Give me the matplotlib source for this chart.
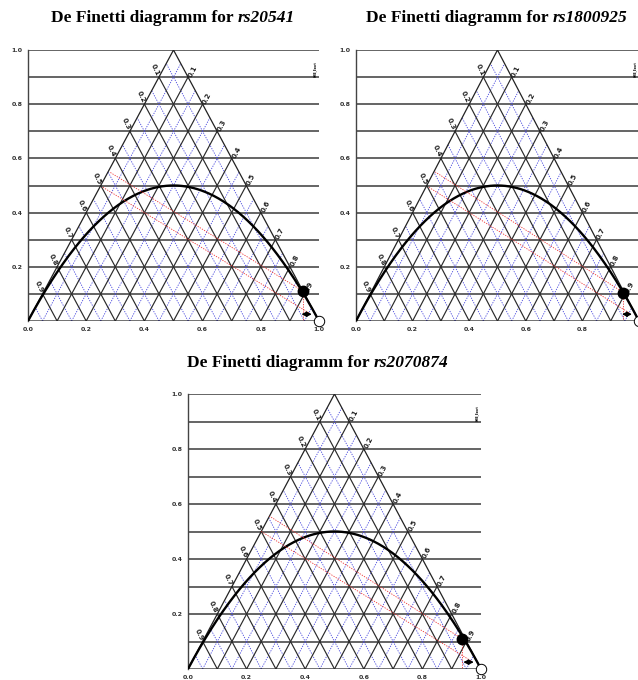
import numpy as np
import matplotlib
matplotlib.use("Agg")
import matplotlib.pyplot as plt

# one panel per SNP
snp_ids = ["rs20541", "rs1800925", "rs2070874"]

# observed genotype point (black dot) in diagram coordinates
obs_x = [0.945, 0.945, 0.935]
obs_y = [0.11, 0.105, 0.11]

# second (expected) point, drawn as the small arrow near the corner
exp_x = [0.965, 0.965, 0.965]
exp_y = [0.03, 0.03, 0.03]

# where the red dotted guides meet the left edge
obs_foot_x = [0.28, 0.28, 0.278]
obs_foot_y = [0.55, 0.55, 0.556]
exp_foot_x = [0.255, 0.255, 0.25]
exp_foot_y = [0.495, 0.495, 0.50]

edge_labels = ["0.1", "0.2", "0.3", "0.4", "0.5", "0.6", "0.7", "0.8", "0.9"]
xtick_vals = [0.0, 0.2, 0.4, 0.6, 0.8, 1.0]
ytick_vals = [0.2, 0.4, 0.6, 0.8, 1.0]

# panel boxes in pixels: left, top, right, bottom  /  title centre
panel_px = [(28, 50, 319, 321), (356, 50, 639, 321), (188, 394, 481, 669)]
title_px = [(173, 18), (497, 18), (318, 363)]

W, H = 638, 680
fig = plt.figure(figsize=(W / 100, H / 100), dpi=100)


def draw_panel(ax, i):
    ax.set_xlim(0, 1)
    ax.set_ylim(0, 1)
    for s in ["top", "right", "bottom"]:
        ax.spines[s].set_visible(False)
    ax.spines["left"].set_color("#444444")
    ax.spines["left"].set_linewidth(1.0)

    # horizontal grid across the whole box
    for lev in np.arange(1, 11) / 10:
        ax.plot([0, 1], [lev, lev], color="#4a4a4a", lw=1.2, zorder=1)

    # blue dotted half-step lattice
    for a in np.arange(0.05, 1.0, 0.1):
        ax.plot([a, (1 + a) / 2], [0, 1 - a], color="#4444dd", lw=0.6,
                ls=(0, (1.5, 1.5)), zorder=2)
        ax.plot([a, a / 2], [0, a], color="#4444dd", lw=0.6,
                ls=(0, (1.5, 1.5)), zorder=2)

    # black lattice parallel to the two sides
    for a in np.arange(1, 10) / 10:
        ax.plot([a, (1 + a) / 2], [0, 1 - a], color="#2a2a2a", lw=0.85, zorder=3)
        ax.plot([a, a / 2], [0, a], color="#2a2a2a", lw=0.85, zorder=3)

    # triangle outline
    ax.plot([0, 0.5, 1, 0], [0, 1, 0, 0], color="#222222", lw=0.9, zorder=3)

    # edge labels
    for k, lab in enumerate(edge_labels):
        lev = 0.9 - 0.1 * k
        xl = lev / 2
        ax.text(xl - 0.013, lev + 0.026, lab, fontsize=5, fontweight="bold",
                rotation=-65, ha="center", va="center", color="#222222", zorder=6)
        xr = 1 - lev / 2
        ax.text(xr + 0.016, lev + 0.022, lab, fontsize=5, fontweight="bold",
                rotation=62, ha="center", va="center", color="#222222", zorder=6)

    # HWE parabola
    p = np.linspace(0, 1, 300)
    ax.plot(p, 2 * p * (1 - p), color="black", lw=1.7, zorder=4)

    # red dotted guides
    ax.plot([obs_x[i], obs_foot_x[i]], [obs_y[i], obs_foot_y[i]], color="#ee3333",
            lw=0.6, ls=(0, (1.5, 1.5)), zorder=5)
    ax.plot([exp_x[i], exp_foot_x[i]], [exp_y[i], exp_foot_y[i]], color="#ee3333",
            lw=0.6, ls=(0, (1.5, 1.5)), zorder=5)
    ax.plot([obs_x[i], obs_x[i]], [obs_y[i], 0], color="#ee3333",
            lw=0.6, ls=(0, (1.5, 1.5)), zorder=5)

    # points
    ax.plot(obs_x[i], obs_y[i], "o", ms=7.5, color="black", zorder=7, clip_on=False)
    ax.annotate("", xy=(exp_x[i] - 0.035, exp_y[i] - 0.005),
                xytext=(exp_x[i] + 0.02, exp_y[i] - 0.005),
                arrowprops=dict(arrowstyle="<|-|>", color="black", lw=1.0,
                                mutation_scale=7), zorder=7)
    ax.plot(1.0, 0.0, "o", ms=7.5, mfc="white", mec="black", mew=0.7,
            zorder=8, clip_on=False)

    ax.text(0.985, 0.93, "HWE_Exact", fontsize=1.8, rotation=90,
            ha="center", va="center", fontweight="bold")

    ax.set_xticks(xtick_vals)
    labs = ["%.1f" % v for v in xtick_vals]
    if i == 1:
        labs[-1] = ""  # falls off the right edge of the picture
    ax.set_xticklabels(labs)
    ax.set_yticks(ytick_vals)
    ax.set_yticklabels(["%.1f" % v for v in ytick_vals])
    ax.tick_params(length=0, labelsize=4.5, pad=4, colors="#333333")
    for t in ax.get_xticklabels() + ax.get_yticklabels():
        t.set_fontweight("bold")


for i, sid in enumerate(snp_ids):
    l, t, r, b = panel_px[i]
    ax = fig.add_axes([l / W, 1 - b / H, (r - l) / W, (b - t) / H])
    draw_panel(ax, i)

# titles: roman part + italic SNP id, centred together
renderer = fig.canvas.get_renderer()
for i, sid in enumerate(snp_ids):
    cx, cy = title_px[i]
    t1 = fig.text(0, 0, "De Finetti diagramm for ", family="Liberation Serif",
                  fontweight="bold", fontsize=12.5, va="center")
    t2 = fig.text(0, 0, sid, family="Liberation Serif", fontweight="bold",
                  style="italic", fontsize=12.5, va="center")
    w1 = t1.get_window_extent(renderer).width
    w2 = t2.get_window_extent(renderer).width
    x0 = cx - (w1 + w2) / 2
    t1.set_position((x0 / W, 1 - cy / H))
    t2.set_position(((x0 + w1) / W, 1 - cy / H))

fig.savefig("out.png", dpi=100)
